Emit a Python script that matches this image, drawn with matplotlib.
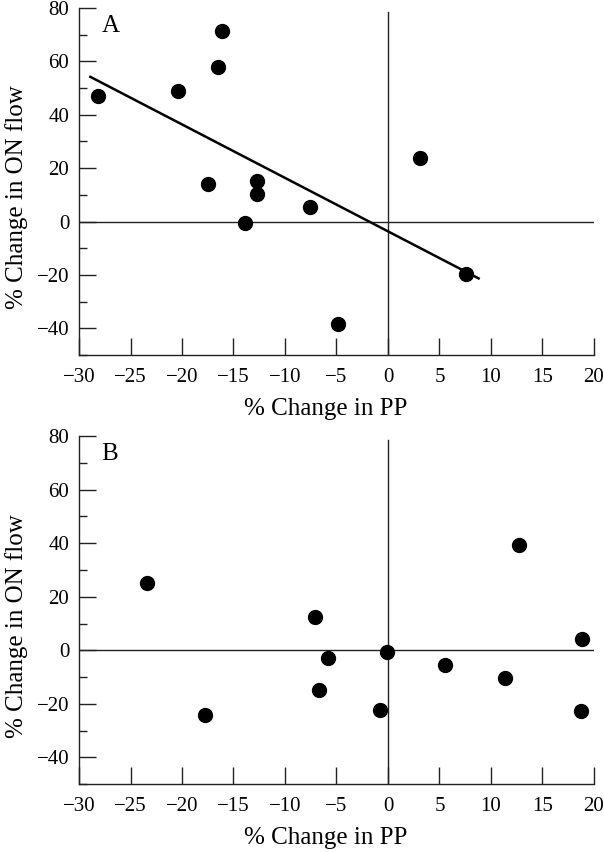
import numpy as np
import matplotlib
matplotlib.use("Agg")
import matplotlib.pyplot as plt
from matplotlib.ticker import MultipleLocator

plt.rcParams['font.family'] = ['Liberation Serif', 'DejaVu Serif']
plt.rcParams['axes.unicode_minus'] = True

# Panel A data
a_pp = [-28.2, -20.4, -16.1, -16.5, -17.5, -12.7, -12.7, -13.9, -7.6, -4.9, 3.1, 7.6]
a_on = [47.0, 49.0, 71.5, 58.0, 14.0, 15.1, 10.4, -0.6, 5.6, -38.3, 23.9, -19.6]
a_fit_range = [-28.9, 8.8]

# Panel B data
b_pp = [-23.4, -17.8, -7.1, -5.8, -6.7, -0.1, -0.8, 5.5, 11.4, 12.7, 18.8, 18.7]
b_on = [25.1, -24.3, 12.3, -2.8, -14.9, -0.7, -22.4, -5.3, -10.3, 39.3, 4.3, -22.5]

x_ticks = [-30, -25, -20, -15, -10, -5, 0, 5, 10, 15, 20]
y_ticks = [-40, -20, 0, 20, 40, 60, 80]
panel_labels = ['A', 'B']
xlabel = '% Change in PP'
ylabel = '% Change in ON flow'

fig = plt.figure(figsize=(6.04, 8.52), dpi=100)
axA = fig.add_axes([0.1308, 0.5833, 0.8526, 0.4073])
axB = fig.add_axes([0.1308, 0.0795, 0.8526, 0.4088])

def style(ax, xs, ys, label):
    ax.set_xlim(-30, 20)
    ax.set_ylim(-50, 80)
    for s in ['top', 'right']:
        ax.spines[s].set_visible(False)
    for s in ['left', 'bottom']:
        ax.spines[s].set_linewidth(1.0)
        ax.spines[s].set_color('#222222')
    ax.set_xticks(x_ticks)
    ax.set_yticks(y_ticks)
    ax.yaxis.set_minor_locator(MultipleLocator(10))
    ax.tick_params(axis='both', which='major', direction='in', length=12, width=1.0,
                   labelsize=15, color='#222222', pad=7)
    ax.tick_params(axis='y', which='minor', direction='in', length=5.5, width=1.0, color='#222222')
    ax.tick_params(axis='x', pad=9)
    ax.axhline(0, color='#222222', lw=1.0, zorder=1)
    ax.axvline(0, ymax=0.988, color='#222222', lw=1.0, zorder=1)
    ax.plot(xs, ys, 'o', color='black', markersize=10, zorder=3, clip_on=False)
    ax.set_xlabel(xlabel, fontsize=18, labelpad=8, x=0.479)
    ax.set_ylabel(ylabel, fontsize=18, labelpad=6, y=0.455)
    ax.text(-27.8, 73.2, label, fontsize=18, va='center', ha='left')

style(axA, a_pp, a_on, panel_labels[0])
style(axB, b_pp, b_on, panel_labels[1])

slope, intercept = np.polyfit(a_pp, a_on, 1)
fx = np.array(a_fit_range)
axA.plot(fx, slope * fx + intercept, color='black', lw=1.8, zorder=2)

fig.savefig('out.png', dpi=100, facecolor='white')
